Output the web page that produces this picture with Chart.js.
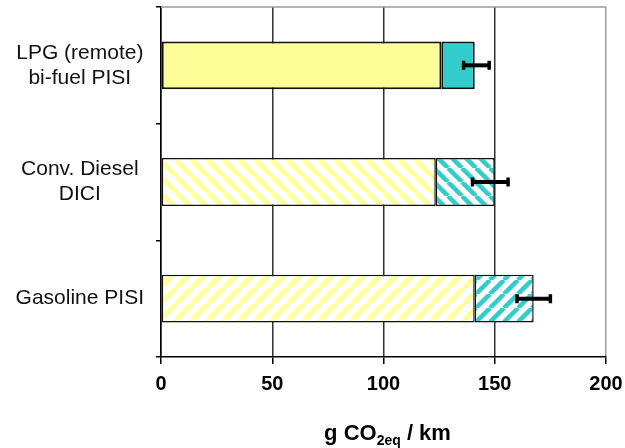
<!DOCTYPE html>
<html>
<head>
<meta charset="utf-8">
<script src="https://cdn.jsdelivr.net/npm/chart.js@4/dist/chart.umd.min.js"></script>
<style>
    body { margin: 0; background: #fff; }
    #wrap { width: 625px; height: 448px; }
</style>
</head>
<body>
<div id="wrap"><canvas id="co2Chart"></canvas></div>
<script>
// categories, top to bottom
const categories = [["LPG (remote)", "bi-fuel PISI"], ["Conv. Diesel", "DICI"], ["Gasoline PISI"]];
// two stacked segments, g CO2eq / km
const baseValues = [126, 123.5, 141];
const upperValues = [15, 26.5, 26.5];
// error bar ends
const errLow = [136, 140, 160];
const errHigh = [147.5, 156, 175];
const xTicks = [0, 50, 100, 150, 200];
const hatch = ["none", "back", "fwd"];

const YELLOW = "#ffff99";
const CYAN = "#33cccc";

function makeHatch(color, dir, p, w) {
    const c = document.createElement("canvas");
    c.width = p; c.height = p;
    const g = c.getContext("2d");
    g.fillStyle = "#fff";
    g.fillRect(0, 0, p, p);
    g.strokeStyle = color;
    g.lineWidth = w;
    g.beginPath();
    for (let k = -1; k <= 1; k++) {
        if (dir === "fwd") {
            g.moveTo(k * p, p); g.lineTo(k * p + p, 0);
        } else {
            g.moveTo(k * p, 0); g.lineTo(k * p + p, p);
        }
    }
    g.stroke();
    return g.createPattern(c, "repeat");
}

function fills(color, p, w) {
    return hatch.map(h => h === "none" ? color : makeHatch(color, h, p, w));
}

const frameAndErrors = {
    id: "frameAndErrors",
    beforeDatasetsDraw(chart) {
        const { ctx, chartArea } = chart;
        ctx.save();
        ctx.strokeStyle = "#9a9a9a";
        ctx.lineWidth = 1.5;
        ctx.beginPath();
        ctx.moveTo(chartArea.left, chartArea.top);
        ctx.lineTo(chartArea.right, chartArea.top);
        ctx.stroke();
        ctx.restore();
    },
    afterDatasetsDraw(chart) {
        const { ctx } = chart;
        const xs = chart.scales.x;
        const meta = chart.getDatasetMeta(1);
        ctx.save();
        ctx.strokeStyle = "#000";
        meta.data.forEach((bar, i) => {
            const x0 = xs.getPixelForValue(errLow[i]);
            const x1 = xs.getPixelForValue(errHigh[i]);
            const y = bar.y;
            ctx.lineWidth = 4;
            ctx.beginPath();
            ctx.moveTo(x0, y); ctx.lineTo(x1, y);
            ctx.stroke();
            ctx.lineWidth = 3.5;
            ctx.beginPath();
            ctx.moveTo(x0, y - 4.5); ctx.lineTo(x0, y + 4.5);
            ctx.moveTo(x1, y - 4.5); ctx.lineTo(x1, y + 4.5);
            ctx.stroke();
        });
        ctx.restore();
    },
    afterDraw(chart) {
        const { ctx, chartArea } = chart;
        const font = "bold 22px 'Liberation Sans', Arial, sans-serif";
        const subFont = "bold 14px 'Liberation Sans', Arial, sans-serif";
        const parts = [["g CO", font, 0], ["2eq", subFont, 5], [" / km", font, 0]];
        ctx.save();
        let total = 0;
        parts.forEach(p => { ctx.font = p[1]; total += ctx.measureText(p[0]).width; });
        let x = (chartArea.left + chartArea.right) / 2 + 4 - total / 2;
        const base = 440;
        ctx.fillStyle = "#000";
        ctx.textBaseline = "alphabetic";
        ctx.textAlign = "left";
        parts.forEach(p => {
            ctx.font = p[1];
            ctx.fillText(p[0], x, base + p[2]);
            x += ctx.measureText(p[0]).width;
        });
        ctx.restore();
    }
};

new Chart(document.getElementById("co2Chart"), {
    type: "bar",
    data: {
        labels: categories,
        datasets: [
            {
                data: baseValues,
                backgroundColor: fills(YELLOW, 16, 5),
                borderColor: "#111",
                borderWidth: [2, 1.5, 1.5],
                borderSkipped: false,
                barPercentage: 0.41,
                categoryPercentage: 1
            },
            {
                data: upperValues,
                backgroundColor: fills(CYAN, 14, 4.5),
                borderColor: "#111",
                borderWidth: [2, 1.5, 1.5],
                borderSkipped: false,
                barPercentage: 0.41,
                categoryPercentage: 1
            }
        ]
    },
    plugins: [frameAndErrors],
    options: {
        indexAxis: "y",
        responsive: true,
        maintainAspectRatio: false,
        animation: false,
        layout: { padding: { top: 7, right: 19, bottom: 0, left: 0 } },
        plugins: { legend: { display: false }, tooltip: { enabled: false } },
        scales: {
            x: {
                stacked: true,
                min: 0,
                max: 200,
                afterBuildTicks: s => { s.ticks = xTicks.map(v => ({ value: v })); },
                afterFit: s => { s.height = 91; s.paddingLeft = 0; s.paddingRight = 0; },
                border: { display: true, color: "#000", width: 1.5 },
                grid: {
                    color: c => c.tick && c.tick.value === 200 ? "#9a9a9a" : "#333",
                    lineWidth: 1.5,
                    tickLength: 7,
                    tickColor: "#000"
                },
                ticks: {
                    padding: 8,
                    color: "#000",
                    font: { family: "'Liberation Sans', Arial, sans-serif", size: 20, weight: "bold" }
                }
            },
            y: {
                stacked: true,
                afterFit: s => { s.width = 161; s.paddingTop = 0; s.paddingBottom = 0; },
                border: { display: true, color: "#000", width: 1.5 },
                grid: {
                    offset: true,
                    drawOnChartArea: false,
                    tickLength: 5,
                    tickColor: "#000",
                    lineWidth: 1.5
                },
                ticks: {
                    padding: 12,
                    crossAlign: "center",
                    color: "#111",
                    font: { family: "'Liberation Sans', Arial, sans-serif", size: 21, lineHeight: 1.2 }
                }
            }
        }
    }
});
</script>
</body>
</html>
